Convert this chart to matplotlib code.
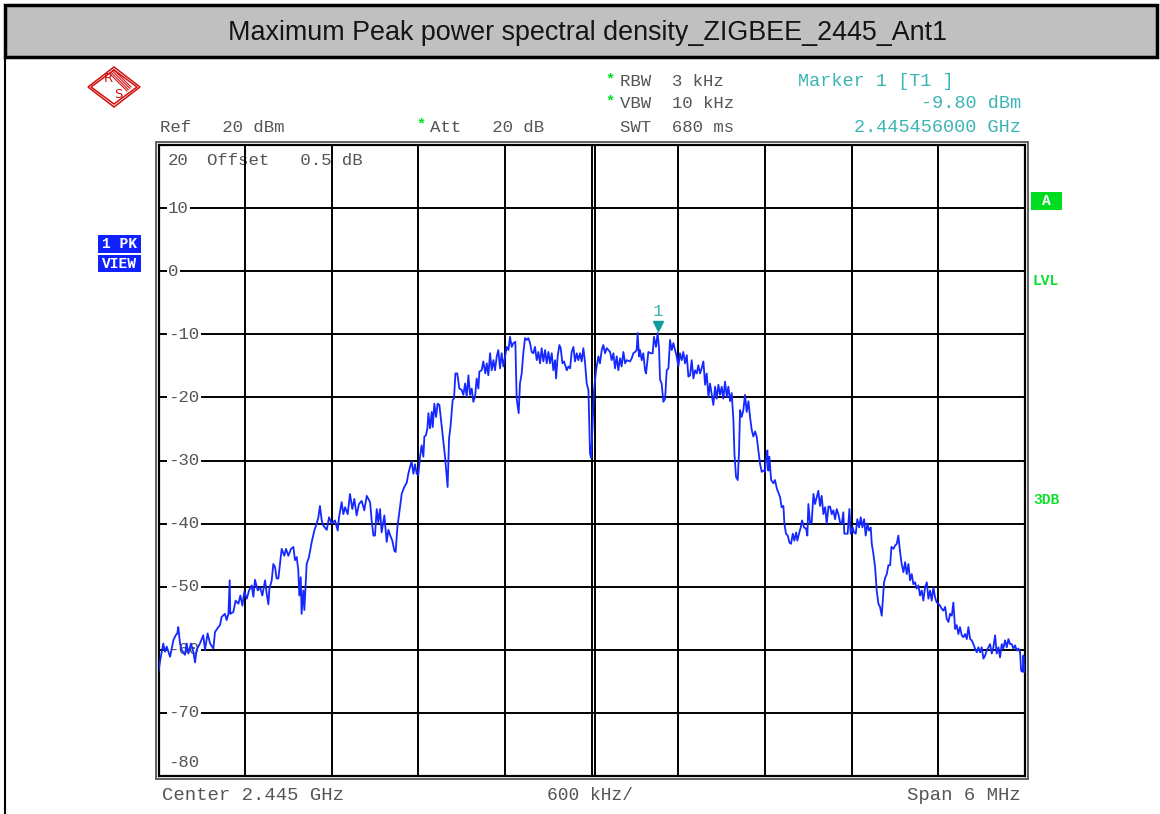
import numpy as np
import matplotlib
matplotlib.use("Agg")
import matplotlib.pyplot as plt
import matplotlib.patches as patches
import matplotlib.transforms as mtransforms

W, H = 1160, 814

# trace: offset from centre (kHz) and level (dBm)
offset_khz = [
    -3000, -2990, -2967, -2955, -2943, -2920, -2897, -2881, -2870, -2863,
    -2851, -2840, -2817, -2805, -2793, -2775, -2759, -2747, -2736, -2713,
    -2690, -2678, -2660, -2643, -2620, -2609, -2586, -2574, -2563, -2540,
    -2528, -2516, -2507, -2503, -2482, -2466, -2447, -2433, -2419, -2406,
    -2389, -2373, -2355, -2343, -2332, -2313, -2297, -2281, -2262, -2251,
    -2239, -2232, -2216, -2205, -2193, -2182, -2170, -2159, -2147, -2129,
    -2117, -2101, -2082, -2066, -2055, -2043, -2032, -2025, -2015, -2009,
    -1997, -1990, -1974, -1958, -1939, -1921, -1905, -1893, -1882, -1870,
    -1859, -1835, -1819, -1801, -1778, -1759, -1750, -1732, -1720, -1708,
    -1690, -1674, -1658, -1644, -1628, -1612, -1593, -1575, -1558, -1535,
    -1524, -1512, -1501, -1489, -1478, -1466, -1455, -1436, -1420, -1408,
    -1395, -1381, -1367, -1358, -1346, -1328, -1316, -1298, -1281,
    -1270, -1258, -1247, -1235, -1224, -1212, -1201, -1189, -1178, -1166,
    -1159, -1148, -1138, -1131, -1120, -1108, -1101, -1090, -1078, -1067,
    -1055, -1046, -1032, -1016, -1004, -998, -988, -977, -963, -954,
    -944, -931, -917, -901, -889, -877, -866, -854, -843, -831,
    -820, -808, -797, -785, -778, -762, -751, -737, -727, -716,
    -704, -693, -681, -670, -658, -647, -635, -624, -612, -600,
    -589, -577, -566, -554, -543, -529, -520, -506, -497, -485,
    -474, -462, -450, -439, -427, -416, -404, -393, -381, -370,
    -358, -347, -335, -323, -312, -300, -289, -277, -266, -254,
    -247, -236, -224, -215, -203, -192, -173, -162, -150, -139,
    -127, -116, -104, -93, -81, -70, -58, -46, -35, -23,
    -12, -4,
    7, 16, 30, 46, 57, 69, 80, 92, 104, 115,
    127, 138, 150, 161, 173, 184, 196, 207, 219, 231,
    242, 265, 277, 288, 300, 311, 318, 327, 334, 346,
    357, 369, 376, 392, 408, 422, 431, 445, 456, 466,
    473, 484, 496, 508, 519, 531, 542, 554, 565, 577,
    588, 600, 611, 623, 634, 646, 658, 669, 681, 692,
    704, 715, 727, 738, 750, 761, 773, 785, 796, 808,
    819, 831, 842, 854, 865, 877, 888, 900, 911, 923,
    935, 946, 958, 969, 981, 988, 999, 1011, 1020, 1027,
    1038, 1050, 1061, 1073, 1085, 1096, 1108, 1119, 1131, 1142,
    1154, 1165, 1177, 1188, 1200, 1207, 1216, 1223, 1230, 1242,
    1258, 1269, 1281,
    1304, 1315, 1327, 1334, 1345, 1357, 1369, 1380, 1392, 1403,
    1415, 1424, 1435, 1447, 1456, 1470, 1484, 1493, 1500, 1512,
    1523, 1535, 1546, 1558, 1569, 1581, 1592, 1604, 1616, 1627,
    1639, 1650, 1662, 1673, 1685, 1696, 1708, 1719, 1731, 1742,
    1749, 1761, 1772, 1784, 1793, 1807, 1816, 1828, 1839, 1851,
    1863, 1874, 1886, 1897, 1909, 1920, 1932, 1939, 1950, 1962,
    1973, 1985, 1996, 2008, 2015, 2024, 2033, 2043, 2054, 2066,
    2075, 2089, 2100, 2112, 2123, 2135, 2146, 2158, 2170, 2181,
    2193, 2204, 2216, 2227, 2239, 2250, 2262, 2273, 2285, 2296,
    2308, 2320, 2331, 2343, 2354, 2366, 2377, 2389, 2400, 2412,
    2423, 2435, 2447, 2458, 2470, 2481, 2493, 2504, 2516, 2527,
    2539, 2550, 2562, 2573, 2585, 2597, 2608, 2620, 2631, 2643,
    2654, 2666, 2677, 2689, 2700, 2712, 2724, 2735, 2747, 2758,
    2770, 2781, 2793, 2804, 2816, 2827, 2839, 2850, 2862, 2874,
    2885, 2897, 2908, 2920, 2931, 2943, 2954, 2966, 2973, 2984,
    2989, 2996,
]
level_dbm = [
    -63.5, -61.9, -59.0, -60.3, -59.5, -61.1, -58.5, -57.7, -57.4, -56.4,
    -59.0, -60.0, -60.8, -59.0, -60.6, -59.0, -60.3, -62.0, -60.0, -59.0,
    -57.7, -60.0, -57.4, -59.0, -59.8, -57.2, -56.4, -56.1, -54.8, -54.3,
    -55.3, -54.3, -49.0, -54.3, -54.0, -52.2, -52.7, -51.4, -53.0, -50.8,
    -51.9, -50.6, -49.8, -51.6, -48.9, -50.6, -50.1, -51.4, -49.0, -51.1,
    -52.8, -50.3, -49.0, -46.4, -46.9, -48.7, -48.7, -46.4, -44.0, -45.1,
    -44.0, -45.1, -44.0, -43.7, -45.8, -45.3, -47.4, -51.4, -48.5, -54.3,
    -50.6, -53.7, -46.4, -45.3, -42.9, -41.1, -40.0, -39.0, -37.2, -39.5,
    -40.3, -41.0, -39.0, -40.0, -39.5, -41.1, -39.0, -36.6, -38.5, -37.4,
    -38.5, -35.3, -37.7, -36.1, -38.7, -36.9, -36.4, -37.9, -35.6, -36.6,
    -39.5, -41.9, -41.9, -37.7, -39.8, -37.7, -41.4, -38.7, -42.9, -41.0,
    -41.9, -42.7, -44.3, -44.5, -40.6, -37.4, -35.3, -34.2, -33.5,
    -32.1, -31.0, -30.2, -32.1, -30.6, -32.1, -32.3, -29.4, -27.6, -29.4,
    -26.2, -26.0, -24.9, -22.5, -24.9, -22.3, -24.7, -21.0, -23.1, -21.0,
    -21.2, -23.1, -26.0, -29.4, -32.6, -34.2, -26.5, -24.4, -20.4, -20.2,
    -16.2, -16.2, -18.6, -18.8, -19.6, -17.8, -19.9, -16.5, -19.6, -18.6,
    -20.7, -19.9, -17.0, -18.6, -15.9, -15.7, -14.3, -16.2, -14.6, -16.5,
    -13.0, -15.7, -14.1, -15.7, -13.5, -12.5, -15.4, -13.0, -15.1, -13.5,
    -12.0, -12.5, -10.4, -12.0, -11.4, -11.2, -20.2, -22.5, -17.8, -16.2,
    -13.0, -10.6, -10.9, -10.6, -11.4, -12.8, -13.0, -12.0, -14.1, -12.8,
    -14.6, -12.2, -14.3, -12.5, -14.6, -12.8, -14.6, -13.0, -15.7, -14.1,
    -17.0, -13.5, -11.7, -12.2, -14.6, -14.3, -15.7, -15.1, -15.4, -12.8,
    -12.0, -14.3, -13.0, -14.1, -13.0, -14.3, -12.2, -14.6, -17.8, -18.8,
    -28.9, -29.6,
    -23.6, -18.8, -15.7, -13.5, -14.6, -12.5, -11.7, -13.0, -12.2, -12.5,
    -12.8, -14.1, -13.0, -15.4, -13.5, -15.7, -13.8, -15.1, -12.8, -14.6,
    -14.1, -14.3, -13.8, -13.0, -12.8, -12.5, -9.8, -13.5, -12.5, -14.1,
    -13.0, -15.7, -16.2, -12.8, -13.0, -13.0, -10.4, -12.0, -9.8, -12.2,
    -17.2, -17.8, -20.7, -20.2, -15.7, -15.4, -10.9, -12.5, -11.4, -12.5,
    -13.5, -15.1, -13.0, -14.1, -12.8, -14.6, -13.3, -16.7, -16.5, -14.1,
    -17.0, -15.7, -16.2, -14.9, -16.2, -15.4, -14.3, -18.0, -16.2, -19.9,
    -17.8, -19.6, -21.2, -18.3, -20.2, -18.0, -19.6, -18.3, -20.2, -17.5,
    -19.9, -18.3, -20.6, -19.3, -23.6, -28.9, -32.6, -33.1, -28.4, -22.0,
    -23.1, -22.0, -19.6, -22.3, -20.6, -23.1, -25.2, -26.2, -25.4, -26.2,
    -28.4, -30.5, -31.8, -31.6, -31.8, -29.9, -28.4, -31.6, -29.4, -33.1,
    -33.6, -33.1, -34.4,
    -35.8, -37.4, -37.2, -40.0, -41.6, -41.9, -43.0, -43.2, -41.6, -42.7,
    -41.4, -42.7, -41.6, -40.6, -39.5, -40.6, -40.8, -41.9, -36.9, -40.0,
    -39.8, -35.3, -36.9, -35.8, -34.8, -37.2, -35.6, -38.5, -37.4, -40.0,
    -37.3, -37.3, -38.5, -37.9, -39.3, -37.7, -38.5, -39.8, -40.0, -38.2,
    -41.6, -41.6, -41.6, -37.7, -41.6, -40.6, -41.4, -41.6, -39.3, -40.6,
    -39.0, -40.6, -39.3, -41.9, -40.0, -41.1, -40.6, -43.2, -44.8, -46.9,
    -50.6, -52.7, -53.2, -54.6, -52.2, -49.3, -48.5, -48.0, -46.6, -46.6,
    -43.7, -44.0, -43.5, -43.2, -41.9, -44.5, -46.4, -47.7, -46.1, -48.0,
    -46.4, -49.0, -48.0, -49.6, -49.3, -50.3, -49.8, -51.4, -50.6, -52.2,
    -50.1, -49.3, -51.9, -50.6, -52.2, -50.1, -51.7, -52.5, -52.7, -53.0,
    -53.5, -53.8, -53.2, -55.1, -55.6, -54.3, -54.6, -52.5, -56.7, -56.1,
    -57.5, -56.4, -57.7, -58.0, -57.5, -58.3, -56.4, -58.3, -58.5, -59.1,
    -59.8, -60.4, -59.6, -60.4, -59.6, -61.4, -60.9, -60.1, -59.6, -59.1,
    -60.6, -59.6, -57.7, -60.6, -59.6, -61.2, -59.1, -59.8, -58.5, -59.6,
    -58.3, -59.1, -59.1, -59.8, -59.3, -60.1, -59.8, -60.4, -63.3, -63.5,
    -60.9, -63.5,
]

y_ticks = [20, 10, 0, -10, -20, -30, -40, -50, -60, -70, -80]
y_labels = ["20", "10", "0", "-10", "-20", "-30", "-40", "-50", "-60", "-70", "-80"]
marker_khz = 456
marker_dbm = -9.80

title = "Maximum Peak power spectral density_ZIGBEE_2445_Ant1"
mono = "Liberation Mono"
grey_txt = "#555555"
teal = "#3cb4b4"
green = "#00e020"
rs_red = "#d01010"


def fx(x):
    return x / W


def fy(y):
    return 1 - y / H


fig = plt.figure(figsize=(W / 100, H / 100), dpi=100)

# title bar
fig.patches.append(patches.Rectangle((fx(5), fy(57)), fx(1152), 52 / H, transform=fig.transFigure,
                                     facecolor="#c0c0c0", edgecolor="black", lw=2.5))
fig.add_artist(plt.Line2D([fx(5), fx(5)], [fy(57), 0], transform=fig.transFigure, color="black", lw=1.5))
fig.text(fx(588), fy(33), title, ha="center", va="center", fontsize=19.4,
         family="Liberation Sans", color="#151515")

# R&S logo
cx, cy, hw, hh = 114, 87, 26, 20
for k in (0, 3):
    diam = [(cx - hw + k, cy), (cx, cy - hh + k), (cx + hw - k, cy), (cx, cy + hh - k)]
    fig.patches.append(patches.Polygon([(fx(a), fy(b)) for a, b in diam], closed=True, fill=False,
                                       edgecolor=rs_red, lw=1.1, transform=fig.transFigure))
for d in (-2, -0.7, 0.7, 2):
    fig.add_artist(plt.Line2D([fx(cx - 2 + d), fx(cx + 15 + d)], [fy(cy - 15 - d), fy(cy + 2 - d)],
                              transform=fig.transFigure, color=rs_red, lw=0.8))
fig.text(fx(cx - 6), fy(cy - 8), "R", color=rs_red, fontsize=9.5, ha="center", va="center")
fig.text(fx(cx + 4), fy(cy + 7), "S", color=rs_red, fontsize=9.5, ha="center", va="center")

# header
hdr = dict(family=mono, fontsize=12.5, va="center")
hdr_teal = dict(family=mono, fontsize=13.3, va="center", color=teal)
fig.text(fx(160), fy(127), "Ref   20 dBm", color=grey_txt, **hdr)
fig.text(fx(430), fy(127), "Att   20 dB", color=grey_txt, **hdr)
fig.text(fx(620), fy(81), "RBW  3 kHz", color=grey_txt, **hdr)
fig.text(fx(620), fy(103), "VBW  10 kHz", color=grey_txt, **hdr)
fig.text(fx(620), fy(127), "SWT  680 ms", color=grey_txt, **hdr)
for sx, sy in [(421, 124), (610, 79), (610, 101)]:
    fig.text(fx(sx), fy(sy), "*", color=green, family=mono, fontsize=11, weight="bold",
             ha="center", va="center")
fig.text(fx(798), fy(81), "Marker 1 [T1 ]", **hdr_teal)
fig.text(fx(1021), fy(103), "%.2f dBm" % marker_dbm, ha="right", **hdr_teal)
fig.text(fx(1021), fy(127), "2.445456000 GHz", ha="right", **hdr_teal)


# side labels
def box_label(x0, y0, x1, y1, s, face):
    fig.patches.append(patches.Rectangle((fx(x0), fy(y1)), (x1 - x0) / W, (y1 - y0) / H,
                                         transform=fig.transFigure, facecolor=face, edgecolor="none"))
    fig.text(fx((x0 + x1) / 2), fy((y0 + y1) / 2), s, color="white", family=mono, weight="bold",
             fontsize=10.5, ha="center", va="center")


box_label(98, 235, 141, 253, "1 PK", "#1020ff")
box_label(98, 255, 141, 272, "VIEW", "#1020ff")
box_label(1031, 192, 1062, 210, "A", "#00dd20")
fig.text(fx(1033), fy(281), "LVL", color="#10e030", family=mono, weight="bold", fontsize=10.5, va="center")
fig.text(fx(1033), fy(500), "3DB", color="#10e030", family=mono, weight="bold", fontsize=10.5, va="center")

# bottom
bot = dict(family=mono, fontsize=13.6, va="center", color=grey_txt)
fig.text(fx(162), fy(795), "Center 2.445 GHz", **bot)
fig.text(fx(590), fy(795), "600 kHz/", ha="center", family=mono, fontsize=12.9, va="center", color=grey_txt)
fig.text(fx(1021), fy(795), "Span 6 MHz", ha="right", **bot)

# plot area
ax = fig.add_axes([fx(158.5), fy(776), 866.5 / W, 631 / H])
ax.set_xlim(-3000, 3000)
ax.set_ylim(-80, 20)
ax.set_xticks(np.linspace(-3000, 3000, 11))
ax.set_yticks(y_ticks)
ax.tick_params(length=0, labelbottom=False, labelleft=False)
ax.grid(True, color="black", lw=1.4, zorder=1)
ax.set_axisbelow(True)
ax.axvline(22, color="black", lw=1.4, zorder=1)
for sp in ax.spines.values():
    sp.set_linewidth(1.6)
fig.patches.append(patches.Rectangle((fx(155.5), fy(779)), 872.5 / W, 637 / H, transform=fig.transFigure,
                                     fill=False, edgecolor="#555555", lw=1.3))

lab = dict(family=mono, fontsize=12.5, color=grey_txt, va="center", ha="left",
           transform=ax.get_yaxis_transform())
for v, s in zip(y_ticks, y_labels):
    if v == 20:
        ax.text(0.011, 17.6, s, zorder=0.5, **lab)
    elif v == -80:
        ax.text(0.011, -77.9, s, zorder=0.5, **lab)
    else:
        ax.text(0.011, v, s, zorder=2,
                bbox=dict(facecolor="white", edgecolor="none", pad=1.0), **lab)
ax.text(0.056, 17.6, "Offset   0.5 dB", zorder=0.5, **lab)

ax.plot(offset_khz, level_dbm, color="#1428ff", lw=1.3, zorder=3)

# marker 1
up = mtransforms.offset_copy(ax.transData, fig=fig, y=7, units="dots")
ax.plot([marker_khz], [marker_dbm], marker="v", color="#109c9c", ms=7, transform=up, zorder=4)
ax.annotate("1", (marker_khz, marker_dbm), xytext=(0, 22), textcoords="offset pixels",
            ha="center", va="center", color=teal, family=mono, fontsize=12.5, zorder=4)

fig.savefig("out.png", dpi=100)
